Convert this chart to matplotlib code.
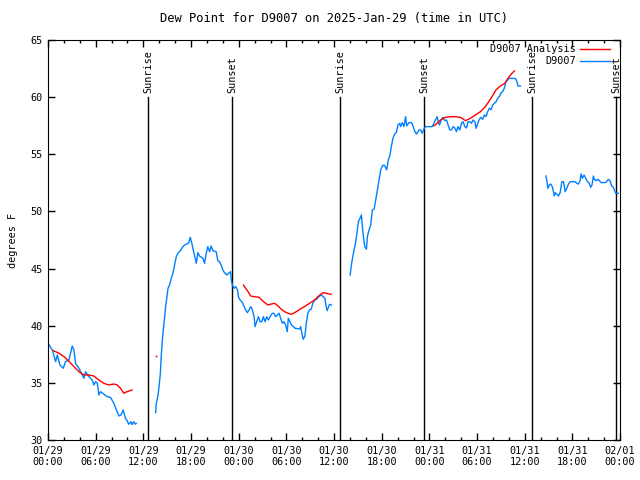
import numpy as np
import matplotlib
matplotlib.use('Agg')
import matplotlib.pyplot as plt
from matplotlib.ticker import MultipleLocator

plt.rcParams['font.family'] = 'DejaVu Sans Mono'
plt.rcParams['font.size'] = 7.3

title = 'Dew Point for D9007 on 2025-Jan-29 (time in UTC)'

# hours since 01/29 00:00 UTC
tick_hours = [0, 6, 12, 18, 24, 30, 36, 42, 48, 54, 60, 66, 72]
tick_labels = ['01/29\n00:00', '01/29\n06:00', '01/29\n12:00', '01/29\n18:00',
               '01/30\n00:00', '01/30\n06:00', '01/30\n12:00', '01/30\n18:00',
               '01/31\n00:00', '01/31\n06:00', '01/31\n12:00', '01/31\n18:00',
               '02/01\n00:00']

sun_hours = [12.6, 23.15, 36.75, 47.3, 60.9, 71.5]
sun_labels = ['Sunrise', 'Sunset', 'Sunrise', 'Sunset', 'Sunrise', 'Sunset']

# observed dew point, D9007 (gaps between segments)
obs1_h = [0, 0.54, 0.96, 1.17, 1.5, 1.92, 2.2, 2.63, 2.84, 3.05, 3.26, 3.47, 3.89, 4.1,
          4.52, 4.73, 5.14, 5.56, 5.77, 5.98, 6.2, 6.4, 6.61, 7.44, 7.9, 8.28, 8.7, 8.91,
          9.2, 9.45, 9.75, 9.95, 10.16, 10.45, 10.6, 10.79, 11.0, 11.1]
obs1_v = [38.46, 37.88, 36.86, 37.44, 36.57, 36.28, 36.86, 37.0, 37.6, 38.23, 37.88, 36.7,
          36.28, 35.98, 35.4, 35.98, 35.55, 35.25, 34.82, 35.1, 35.0, 33.94, 34.23, 33.8,
          33.7, 33.22, 32.48, 32.1, 32.2, 32.63, 31.9, 31.7, 31.38, 31.6, 31.35, 31.6,
          31.38, 31.45]

obs2_h = [13.55, 13.6, 13.85, 13.97, 14.14, 14.26, 14.39, 14.55, 14.68, 14.8, 14.97, 15.1,
          15.3, 15.52, 15.72, 15.93, 16.14, 16.35, 16.55, 16.77, 16.98, 17.19, 17.48, 17.73,
          17.9, 18.1, 18.32, 18.53, 18.66, 18.86, 19.07, 19.49, 19.7, 19.91, 20.11, 20.33,
          20.53, 20.74, 21.16, 21.37, 21.58, 21.79, 22.0, 22.21, 22.5, 22.75, 22.96, 23.09,
          23.21, 23.42, 23.63, 23.84, 23.96, 24.18, 24.47, 24.68, 24.88, 25.09, 25.3, 25.51,
          25.72, 25.93, 26.06, 26.26, 26.48, 26.69, 26.9, 27.1, 27.31, 27.52, 27.73, 27.94,
          28.23, 28.44, 28.65, 28.86, 29.07, 29.27, 29.49, 29.7, 29.9, 30.11, 30.24, 30.45,
          30.65, 31.08, 31.7, 31.78, 31.91, 32.12, 32.33, 32.53, 32.7, 32.91, 33.12, 33.33,
          33.54, 33.79, 34.0, 34.21, 34.42, 34.63, 34.84, 35.0, 35.13, 35.42, 35.67]
obs2_v = [32.4, 33.07, 33.94, 34.67, 35.84, 37.44, 38.75, 39.92, 40.79, 41.67, 42.54, 43.27,
          43.56, 44.15, 44.59, 45.31, 46.04, 46.34, 46.48, 46.69, 46.92, 47.07, 47.15, 47.27,
          47.74, 47.21, 46.48, 45.9, 45.46, 46.4, 46.1, 45.9, 45.46, 46.34, 46.92, 46.48,
          46.98, 46.57, 46.48, 45.69, 45.6, 45.31, 44.88, 44.64, 44.44, 44.59, 44.73, 43.86,
          43.56, 43.27, 43.42, 43.13, 42.54, 42.25, 42.02, 41.67, 41.38, 41.14, 41.38, 41.67,
          41.38, 40.79, 39.92, 40.35, 40.79, 40.35, 40.35, 40.79, 40.35, 40.79, 40.5, 40.79,
          41.09, 41.09, 40.79, 40.94, 41.09, 40.65, 40.21, 40.35, 40.06, 39.48, 40.65, 40.35,
          40.06, 39.78, 39.72, 39.92, 39.48, 38.81, 39.1, 40.35, 41.09, 41.38, 41.44, 41.96,
          42.25, 42.31, 42.49, 42.6, 42.69, 42.54, 42.4, 41.67, 41.32, 41.87, 41.81]

obs3_h = [38.02, 38.18, 38.31, 38.52, 38.73, 38.93, 39.06, 39.27, 39.44, 39.56, 39.69,
          39.86, 40.07, 40.19, 40.4, 40.61, 40.82, 41.03, 41.24, 41.45, 41.66, 41.87, 42.07,
          42.28, 42.45, 42.62, 42.82, 43.04, 43.2, 43.41, 43.63, 43.83, 44.04, 44.25, 44.37,
          44.58, 44.79, 45.0, 45.13, 45.42, 45.76, 45.96, 46.17, 46.38, 46.68, 46.88, 47.09,
          47.3, 47.51, 48.35, 48.56, 48.77, 48.97, 49.1, 49.27, 49.47, 49.69, 49.94, 50.15,
          50.35, 50.56, 50.77, 50.98, 51.19, 51.4, 51.6, 51.82, 52.03, 52.23, 52.45, 52.65,
          52.86, 53.07, 53.29, 53.49, 53.7, 53.87, 54.08, 54.29, 54.49, 54.7, 54.92, 55.12,
          55.33, 55.54, 55.75, 55.96, 56.17, 56.38, 56.59, 56.8, 57.0, 57.21, 57.42, 57.63,
          57.8, 57.97, 58.3, 58.81, 59.02, 59.14, 59.45]
obs3_v = [44.44, 45.31, 45.9, 46.63, 47.35, 48.38, 49.1, 49.4, 49.69, 48.67, 47.79, 46.92,
          46.69, 47.79, 48.38, 48.81, 50.13, 50.19, 51.0, 51.88, 52.75, 53.63, 53.98, 54.06,
          53.9, 53.63, 54.5, 54.94, 55.67, 56.4, 56.78, 56.89, 57.56, 57.71, 57.42, 57.77,
          57.42, 58.29, 57.48, 57.77, 57.77, 57.42, 56.98, 56.78, 57.13, 57.13, 56.84, 57.19,
          57.42, 57.42, 57.71, 58.0, 58.29, 57.85, 57.56, 58.0, 58.23, 57.94, 58.0, 57.56,
          57.13, 57.13, 57.42, 57.3, 56.98, 57.42, 57.13, 57.71, 57.85, 57.42, 57.3, 57.85,
          57.85, 57.71, 58.0, 57.85, 57.27, 57.71, 58.06, 58.23, 58.06, 58.44, 58.3, 58.73,
          59.02, 58.9, 59.31, 59.46, 59.6, 59.9, 60.05, 60.34, 60.5, 60.77, 61.35, 61.45,
          61.64, 61.64, 61.64, 61.35, 60.98, 60.98]

obs4_h = [62.65, 62.78, 62.9, 63.08, 63.28, 63.49, 63.71, 63.83, 64.03, 64.24, 64.45, 64.66,
          64.87, 65.08, 65.28, 65.5, 65.71, 66.33, 66.54, 66.75, 66.96, 67.08, 67.25, 67.46,
          67.67, 67.88, 68.08, 68.29, 68.45, 68.63, 68.76, 68.97, 69.18, 69.39, 69.6, 70.1,
          70.3, 70.51, 70.72, 70.93, 71.14, 71.27, 71.43, 71.77]
obs4_v = [53.1, 52.69, 52.02, 52.31, 52.4, 52.11, 51.35, 51.64, 51.5, 51.35, 51.64, 52.6,
          52.6, 51.73, 52.02, 52.4, 52.6, 52.6, 52.46, 52.4, 52.69, 53.28, 52.9, 53.19,
          52.9, 52.6, 52.5, 52.11, 52.3, 53.1, 52.81, 52.69, 52.81, 52.69, 52.52, 52.52,
          52.6, 52.81, 52.69, 52.23, 52.11, 51.88, 51.59, 51.59]

# analysis
ana1_h = [0.67, 1.38, 2.0, 2.68, 3.26, 3.89, 4.52, 5.14, 5.77, 6.4, 7.03, 7.65, 8.28,
          8.7, 9.12, 9.54, 9.95, 10.58]
ana1_v = [37.82, 37.59, 37.3, 36.86, 36.42, 35.98, 35.69, 35.69, 35.6, 35.25, 34.96,
          34.82, 34.9, 34.82, 34.53, 34.09, 34.23, 34.38]
ana_dot_h = [13.55]
ana_dot_v = [37.35]
ana2_h = [24.59, 24.88, 25.18, 25.51, 25.93, 26.56, 26.98, 27.39, 27.69, 28.1, 28.52,
          28.94, 29.36, 29.77, 30.2, 30.61, 31.03, 31.45, 31.87, 32.28, 32.7, 33.12, 33.54,
          33.96, 34.38, 34.63, 35.04, 35.63]
ana2_v = [43.56, 43.27, 42.98, 42.6, 42.54, 42.49, 42.19, 41.96, 41.81, 41.9, 41.96,
          41.73, 41.44, 41.23, 41.09, 41.0, 41.14, 41.32, 41.52, 41.67, 41.87, 42.05, 42.25,
          42.54, 42.78, 42.89, 42.83, 42.75]
ana3_h = [48.56, 48.97, 49.39, 50.02, 50.65, 51.27, 51.9, 52.53, 53.16, 53.79, 54.42,
          55.04, 55.46, 55.87, 56.37, 56.93, 57.47, 57.88, 58.31, 58.69]
ana3_v = [57.48, 57.71, 58.0, 58.23, 58.29, 58.29, 58.23, 57.94, 58.15, 58.44, 58.73,
          59.17, 59.6, 60.04, 60.63, 60.98, 61.2, 61.64, 62.03, 62.3]

red = '#ff0000'
blue = '#0080ff'

fig = plt.figure(figsize=(6.4, 4.8), dpi=100)
ax = fig.add_axes([0.075, 0.0833, 0.894, 0.8334])

# sunrise / sunset markers
for h, lab in zip(sun_hours, sun_labels):
    ax.plot([h, h], [30, 60], color='black', lw=1.0)
    ax.text(h, 60.4, lab, rotation=90, ha='center', va='bottom')

for hh, vv in [(obs1_h, obs1_v), (obs2_h, obs2_v), (obs3_h, obs3_v), (obs4_h, obs4_v)]:
    ax.plot(hh, vv, color=blue, lw=1.0)
for hh, vv in [(ana1_h, ana1_v), (ana2_h, ana2_v), (ana3_h, ana3_v)]:
    ax.plot(hh, vv, color=red, lw=1.0)
ax.plot(ana_dot_h, ana_dot_v, 's', color=red, ms=1.2, mew=0)

ax.set_xlim(0, 72)
ax.set_ylim(30, 65)
ax.set_xticks(tick_hours)
ax.set_xticklabels(tick_labels)
ax.xaxis.set_minor_locator(MultipleLocator(2))
ax.yaxis.set_major_locator(MultipleLocator(5))
ax.tick_params(which='both', direction='in', top=True, right=True, width=1)
ax.tick_params(which='major', length=5, pad=4)
ax.tick_params(which='minor', length=2.5)
ax.set_ylabel('degrees F', labelpad=9)
ax.set_title(title, pad=13)

# gnuplot style key, text right aligned before the sample line
ax.text(0.923, 0.977, 'D9007 Analysis', transform=ax.transAxes, ha='right', va='center')
ax.plot([0.93, 0.983], [0.977, 0.977], transform=ax.transAxes, color=red, lw=1.0)
ax.text(0.923, 0.947, 'D9007', transform=ax.transAxes, ha='right', va='center')
ax.plot([0.93, 0.983], [0.947, 0.947], transform=ax.transAxes, color=blue, lw=1.0)

fig.savefig('out.png', dpi=100)
